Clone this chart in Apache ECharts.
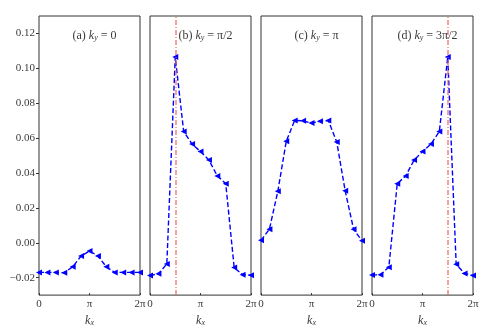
<!DOCTYPE html>
<html><head><meta charset="utf-8">
<script src="https://cdn.jsdelivr.net/npm/echarts@6/dist/echarts.min.js"></script>
<style>html,body{margin:0;padding:0;background:#fff}#c{width:498px;height:332px}</style>
</head><body><div id="c"></div>
<script>
// k_x values in units of π
const kx = [0, 1/6, 2/6, 3/6, 4/6, 5/6, 1, 7/6, 8/6, 9/6, 10/6, 11/6, 2];
const panelA = [-0.0170, -0.0170, -0.0170, -0.0172, -0.0138, -0.0076, -0.0047, -0.0076, -0.0138, -0.0170, -0.0170, -0.0170, -0.0170];
const panelB = [-0.0188, -0.0178, -0.0121, 0.1065, 0.0638, 0.0566, 0.0523, 0.0474, 0.0383, 0.0339, -0.0142, -0.0183, -0.0186];
const panelC = [0.0014, 0.0078, 0.0295, 0.0582, 0.0701, 0.0699, 0.0686, 0.0697, 0.0701, 0.0578, 0.0298, 0.0078, 0.0011];
const panelD = [-0.0185, -0.0183, -0.0140, 0.0339, 0.0383, 0.0474, 0.0523, 0.0566, 0.0638, 0.1065, -0.0123, -0.0176, -0.0188];
const panels = [panelA, panelB, panelC, panelD];
const panelTags = ['(a)', '(b)', '(c)', '(d)'];
const panelKy = ['0', 'π/2', 'π', '3π/2'];
const markX = [null, 0.5, null, 1.5];   // in units of π
const yTicks = [-0.02, 0, 0.02, 0.04, 0.06, 0.08, 0.10, 0.12];
const xTicks = [0, 1, 2];
const xTickLabels = ['0', 'π', '2π'];

const FONT = 'Liberation Serif';
const lefts = [39, 150, 261, 372];
const W = 101, TOP = 16, H = 282;
const TXT = '#3a3a3a';

const chart = echarts.init(document.getElementById('c'), null, {renderer: 'canvas'});
const grid = [], xAxis = [], yAxis = [], series = [], title = [];
panels.forEach((vals, i) => {
  grid.push({left: lefts[i], top: TOP, width: W, height: H, show: true,
    borderColor: '#333', borderWidth: 1, backgroundColor: 'transparent'});
  xAxis.push({gridIndex: i, type: 'value', min: 0, max: 2,
    name: '{i|k}{s|x}', nameLocation: 'middle', nameGap: 15,
    nameTextStyle: {rich: {
      i: {fontFamily: FONT, fontStyle: 'italic', fontSize: 12, color: TXT, verticalAlign: 'bottom', lineHeight: 14},
      s: {fontFamily: FONT, fontStyle: 'italic', fontSize: 8, color: TXT, verticalAlign: 'bottom', lineHeight: 10}}},
    axisLine: {show: false, onZero: false}, splitLine: {show: false},
    axisTick: {show: true, inside: true, length: 2, customValues: xTicks, lineStyle: {color: '#333'}},
    axisLabel: {show: true, customValues: xTicks, margin: 4, fontFamily: FONT, fontSize: 11, color: TXT,
      formatter: v => xTickLabels[xTicks.indexOf(Math.round(v))]}
  });
  yAxis.push({gridIndex: i, type: 'value', min: -0.03, max: 0.13,
    axisLine: {show: false, onZero: false}, splitLine: {show: false},
    axisTick: {show: i === 0, length: 3, customValues: yTicks, lineStyle: {color: '#333'}},
    axisLabel: {show: i === 0, customValues: yTicks, margin: 4, fontFamily: FONT, fontSize: 11, color: TXT,
      formatter: v => (v < 0 ? '−' : '') + Math.abs(v).toFixed(2)}
  });
  const s = {type: 'line', xAxisIndex: i, yAxisIndex: i,
    data: kx.map((x, j) => [x, vals[j]]),
    symbol: 'triangle', symbolSize: 6, symbolRotate: 90, showSymbol: true,
    itemStyle: {color: '#0000ff'},
    lineStyle: {color: '#0000ff', width: 1.4, type: [5, 2.5]},
    clip: true, animation: false, z: 3};
  if (markX[i] !== null) {
    s.markLine = {silent: true, symbol: 'none', label: {show: false}, animation: false,
      lineStyle: {color: 'rgba(240,90,90,0.7)', width: 1.6, type: [5, 2, 1, 2]},
      data: [{xAxis: markX[i]}]};
  }
  series.push(s);
  title.push({text: '{n|' + panelTags[i] + ' }{i|k}{s|y}{n| = ' + panelKy[i] + '}',
    left: lefts[i] + W / 2, top: 23, textAlign: 'center',
    textStyle: {fontWeight: 'normal', rich: {
      n: {fontFamily: FONT, fontSize: 12, fontWeight: 'normal', color: TXT, verticalAlign: 'bottom', lineHeight: 14},
      i: {fontFamily: FONT, fontStyle: 'italic', fontWeight: 'normal', fontSize: 12, color: TXT, verticalAlign: 'bottom', lineHeight: 14},
      s: {fontFamily: FONT, fontStyle: 'italic', fontWeight: 'normal', fontSize: 8, color: TXT, verticalAlign: 'bottom', lineHeight: 10}}}});
});
chart.setOption({animation: false, backgroundColor: '#fff', title, grid, xAxis, yAxis, series});
</script></body></html>
